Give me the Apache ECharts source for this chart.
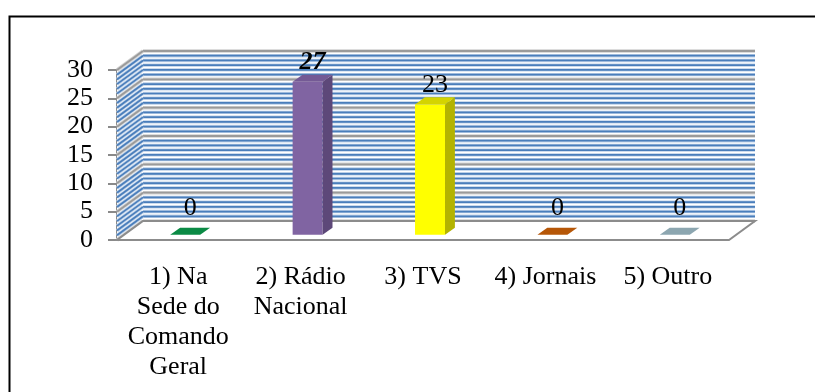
<!DOCTYPE html>
<html>
<head>
<meta charset="utf-8">
<script src="https://cdn.jsdelivr.net/npm/echarts@6/dist/echarts.min.js"></script>
<style>
  html, body { margin: 0; padding: 0; background: #fff; }
  #chart { width: 815px; height: 392px; }
</style>
</head>
<body>
<div id="chart"></div>
<script>
// Categories and counts
const categories = ['1) Na\nSede do\nComando\nGeral', '2) Rádio\nNacional', '3) TVS', '4) Jornais', '5) Outro'];
const values = [0, 27, 23, 0, 0];
const yMin = 0;
const yMax = 30;
const yStep = 5;

// Look of the pseudo-3D box
const FONT = "'Liberation Serif', 'Times New Roman', serif";
const WALL_DX = 26, WALL_DY = -19;       // depth of the back wall
const BAR_FRONT = 0.27, BAR_BACK = 0.65; // bar position inside the depth
const BAR_WIDTH = 0.245;                 // share of a category slot
const STRIPES_PER_STEP = 6;
const faceColors = [
  { front: '#0b8a45', side: '#07693a', top: '#0b8a45' },
  { front: '#8064a2', side: '#5d4879', top: '#745a95' },
  { front: '#ffff00', side: '#b3b300', top: '#d4d400' },
  { front: '#b65708', side: '#8a4206', top: '#b65708' },
  { front: '#8ca6b0', side: '#6b8590', top: '#8ca6b0' }
];
const boldLabel = [false, true, false, false, false];

function renderWalls(params, api) {
  const cs = params.coordSys;
  const x0 = cs.x, x1 = cs.x + cs.width;
  const yAt = v => api.coord([0, v])[1];
  const y0 = yAt(yMin), yTop = yAt(yMax);
  const children = [];
  // side wall and back wall backgrounds
  children.push({ type: 'polygon', shape: { points: [[x0, yTop], [x0 + WALL_DX, yTop + WALL_DY], [x0 + WALL_DX, y0 + WALL_DY], [x0, y0]] }, style: { fill: '#fff' } });
  children.push({ type: 'rect', shape: { x: x0 + WALL_DX, y: yTop + WALL_DY, width: cs.width, height: y0 - yTop }, style: { fill: '#fff' } });
  const n = ((yMax - yMin) / yStep) * STRIPES_PER_STEP;
  for (let k = 0; k <= n; k++) {
    const v = yMin + k * yStep / STRIPES_PER_STEP;
    const y = yAt(v);
    const major = k % STRIPES_PER_STEP === 0;
    const segs = [
      [x0 + WALL_DX, y + WALL_DY, x1 + WALL_DX, y + WALL_DY],
      [x0, y, x0 + WALL_DX, y + WALL_DY]
    ];
    segs.forEach(s => {
      const shape = { x1: s[0], y1: s[1], x2: s[2], y2: s[3] };
      if (major) {
        children.push({ type: 'line', shape, style: { stroke: '#d0d0d0', lineWidth: 3.5 } });
        children.push({ type: 'line', shape, style: { stroke: '#9a9a9a', lineWidth: 1.8 } });
      } else {
        children.push({ type: 'line', shape, style: { stroke: '#bcd0e8', lineWidth: 3.4 } });
        children.push({ type: 'line', shape, style: { stroke: '#4a7ebb', lineWidth: 1.7 } });
      }
    });
  }
  // floor
  children.push({
    type: 'polygon',
    shape: { points: [[x0, y0], [x0 + WALL_DX, y0 + WALL_DY], [x1 + WALL_DX, y0 + WALL_DY], [x1, y0]] },
    style: { fill: '#fff', stroke: '#8c8c8c', lineWidth: 2 }
  });
  return { type: 'group', children };
}

function renderBar(params, api) {
  const idx = api.value(0);
  const v = api.value(1);
  const c = faceColors[idx];
  const slot = api.size([1, 0])[0];
  const w = slot * BAR_WIDTH;
  const base = api.coord([idx, 0]);
  const top = api.coord([idx, v]);
  const ox = WALL_DX * BAR_FRONT, oy = WALL_DY * BAR_FRONT;
  const dx = WALL_DX * (BAR_BACK - BAR_FRONT), dy = WALL_DY * (BAR_BACK - BAR_FRONT);
  const xL = base[0] - w / 2 + ox, xR = base[0] + w / 2 + ox;
  const yB = base[1] + oy, yT = top[1] + oy;
  const children = [];
  if (yB - yT > 0.5) {
    children.push({ type: 'rect', shape: { x: xL, y: yT, width: w, height: yB - yT }, style: { fill: c.front } });
    children.push({ type: 'polygon', shape: { points: [[xR, yT], [xR + dx, yT + dy], [xR + dx, yB + dy], [xR, yB]] }, style: { fill: c.side } });
  }
  children.push({ type: 'polygon', shape: { points: [[xL, yT], [xL + dx, yT + dy], [xR + dx, yT + dy], [xR, yT]] }, style: { fill: c.top } });
  const lift = v > 0 ? 12 : 19;
  children.push({
    type: 'text',
    style: {
      x: base[0] + ox + 5, y: yT + dy - lift,
      text: String(v),
      align: 'center', verticalAlign: 'middle',
      font: (boldLabel[idx] ? 'italic bold ' : '') + '26px ' + FONT,
      fill: '#000'
    }
  });
  return { type: 'group', children };
}

const chart = echarts.init(document.getElementById('chart'), null, { renderer: 'canvas' });
chart.setOption({
  animation: false,
  backgroundColor: '#fff',
  graphic: [{
    type: 'rect', left: 7, top: 14, z: 100,
    shape: { width: 900, height: 500 },
    style: { fill: 'none', stroke: '#000', lineWidth: 2 }
  }],
  grid: { left: 117, top: 70, width: 612, height: 170 },
  xAxis: {
    type: 'category',
    data: categories,
    axisLine: { show: false },
    axisTick: { show: false },
    axisLabel: { interval: 0, margin: 22, color: '#000', fontFamily: FONT, fontSize: 26, lineHeight: 30 }
  },
  yAxis: {
    type: 'value',
    min: yMin, max: yMax, interval: yStep,
    axisLine: { show: true, lineStyle: { color: '#8a8a8a', width: 2 } },
    axisTick: { show: true, length: 9, lineStyle: { color: '#8a8a8a', width: 2 } },
    axisLabel: { margin: 24, color: '#000', fontFamily: FONT, fontSize: 26 },
    splitLine: { show: false }
  },
  series: [
    { type: 'custom', z: 1, clip: false, silent: true, data: [[0, 0]], renderItem: renderWalls },
    { type: 'custom', z: 2, clip: false, data: values.map((v, i) => [i, v]), renderItem: renderBar }
  ]
});
</script>
</body>
</html>
